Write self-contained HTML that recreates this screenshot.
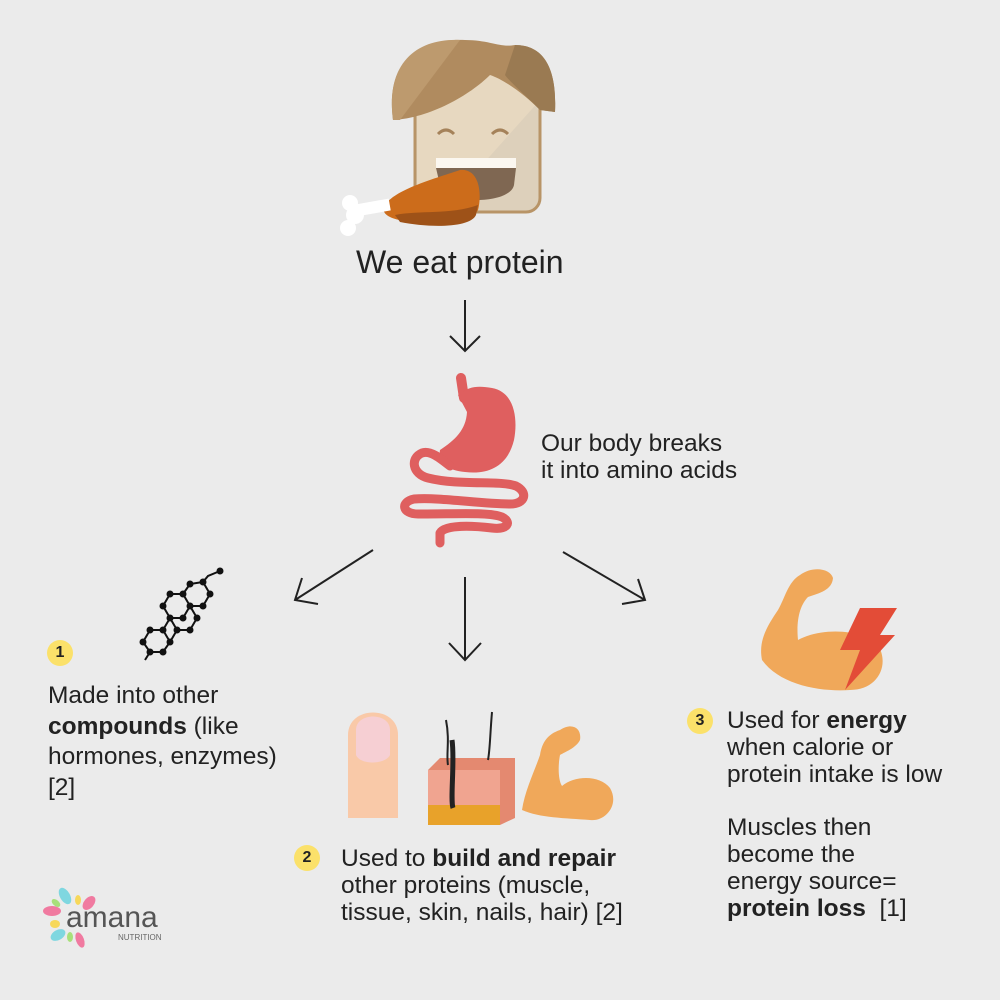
<!DOCTYPE html>
<html><head><style>
body{margin:0;background:#ebebeb;}
#c{position:relative;width:1000px;height:1000px;background:#ebebeb;font-family:"Liberation Sans",sans-serif;color:#222;overflow:hidden}
.t{position:absolute;font-size:24.5px;line-height:27px;white-space:nowrap}
.n{position:absolute;width:26px;height:26px;border-radius:50%;background:#fbe16a;font-size:16px;font-weight:bold;text-align:center;line-height:26px;color:#222}
svg{position:absolute;left:0;top:0}
</style></head><body><div id="c">
<svg width="1000" height="1000">
<!-- head -->
<rect x="415" y="62" width="125" height="150" rx="14" fill="#ddd0bb" stroke="#b89467" stroke-width="3"/>
<polygon points="417,64 540,64 540,100 440,212 417,212" fill="#e7d8c0"/>
<path d="M393,120 C385,60 420,38 465,40 C490,40 500,48 515,45 C545,45 557,70 555,112 L540,110 C525,95 505,80 490,75 C470,95 430,118 393,120Z" fill="#b08b5f"/>
<path d="M515,45 C545,45 557,70 555,112 L540,110 C525,95 510,82 505,75Z" fill="#9a7a52"/>
<path d="M393,120 C385,60 420,38 460,40 L400,120Z" fill="#bd9a6e"/>
<path d="M438,134 q8,-8 16,0 M492,134 q8,-8 16,0" stroke="#a5825a" stroke-width="3" fill="none"/>
<rect x="436" y="158" width="80" height="10" fill="#fbf7f0"/>
<path d="M436,168 L516,168 L514,185 C510,205 445,205 440,185Z" fill="#7f6752"/>
<!-- drumstick -->
<path d="M385,205 C395,190 430,180 460,170 C480,168 482,195 478,210 C470,225 430,225 400,220 C388,218 380,212 385,205Z" fill="#cc6c1b"/>
<path d="M395,215 C420,210 450,215 478,205 L476,215 C470,228 430,228 400,222Z" fill="#9e5218"/>
<rect x="350" y="202" width="40" height="12" fill="#fff" transform="rotate(-10 370 208)"/>
<circle cx="350" cy="203" r="8" fill="#fff"/><circle cx="348" cy="228" r="8" fill="#fff"/><circle cx="355" cy="215" r="9" fill="#fff"/>
<!-- arrows -->
<g stroke="#222" stroke-width="2" fill="none">
<path d="M465,300 V350 M450,336 L465,351 L480,336"/>
<path d="M373,550 L295,600 M302,578 L295,600 L318,604"/>
<path d="M465,577 V660 M449,643 L465,660 L481,643"/>
<path d="M563,552 L645,600 M622,604 L645,600 L638,579"/>
</g>
<!-- stomach -->
<path d="M461,378 L464,398" stroke="#df5f5f" stroke-width="10" fill="none" stroke-linecap="round"/>
<path d="M458,395 C470,385 480,386 492,388 C515,392 518,420 514,440 C508,465 490,475 465,472 C445,470 438,462 440,450 C455,440 466,430 467,412 Z" fill="#df5f5f"/>
<path d="M450,466 C440,458 430,450 422,453 C410,458 412,474 428,478 C460,486 500,480 516,486 C528,492 526,504 510,504 C480,504 440,497 414,499 C400,502 402,514 418,514 C460,514 490,512 502,517 C512,522 508,530 492,528 C475,526 445,524 440,533 L440,543" stroke="#df5f5f" stroke-width="9" fill="none" stroke-linecap="round" stroke-linejoin="round"/>
<!-- molecule -->
<g stroke="#111" stroke-width="2" fill="none">
<path d="M145,660 L150,652 L143,642 L150,630 L163,630 L170,642 L163,652 L150,652 M163,630 L170,618 L163,606 L170,594 L183,594 L190,606 L183,618 L170,618 M190,606 L197,618 L190,630 L177,630 L170,618 M177,630 L170,642 M183,594 L190,584 L203,582 L210,594 L203,606 L190,606 M203,582 L208,576 L220,571"/>
</g>
<g fill="#111">
<circle cx="150" cy="652" r="3.5"/><circle cx="143" cy="642" r="3.5"/><circle cx="150" cy="630" r="3.5"/><circle cx="163" cy="630" r="3.5"/><circle cx="170" cy="642" r="3.5"/><circle cx="163" cy="652" r="3.5"/>
<circle cx="170" cy="618" r="3.5"/><circle cx="163" cy="606" r="3.5"/><circle cx="170" cy="594" r="3.5"/><circle cx="183" cy="594" r="3.5"/><circle cx="190" cy="606" r="3.5"/><circle cx="183" cy="618" r="3.5"/>
<circle cx="197" cy="618" r="3.5"/><circle cx="190" cy="630" r="3.5"/><circle cx="177" cy="630" r="3.5"/>
<circle cx="203" cy="582" r="3.5"/><circle cx="210" cy="594" r="3.5"/><circle cx="203" cy="606" r="3.5"/><circle cx="190" cy="584" r="3.5"/><circle cx="220" cy="571" r="3.5"/>
</g>
<!-- finger -->
<path d="M348,818 L348,735 C348,705 398,705 398,735 L398,818Z" fill="#f9c9a8"/>
<path d="M356,755 L356,730 C356,712 390,712 390,730 L390,755 C385,765 360,765 356,755Z" fill="#f6cfd3"/>
<!-- skin -->
<path d="M428,770 L440,758 L515,758 L515,818 L500,825 L428,825Z" fill="#e48970"/>
<rect x="428" y="770" width="72" height="55" fill="#f0a490"/>
<rect x="428" y="805" width="72" height="20" fill="#e8a22a"/>
<path d="M452,740 C455,760 450,800 453,808" stroke="#222" stroke-width="5" fill="none"/>
<path d="M446,720 C450,740 446,755 448,765 M492,712 C490,735 490,750 488,760" stroke="#222" stroke-width="2" fill="none"/>
<!-- arm 2 -->
<path d="M522,810 C525,790 535,770 540,755 C542,742 548,734 560,730 C572,722 582,728 580,740 C576,748 565,752 560,755 C558,765 558,780 562,786 C575,775 600,775 610,788 C620,805 605,822 590,820 C565,818 540,818 522,810Z" fill="#f0a85a"/>
<!-- arm 3 -->
<path d="M762,660 C758,640 768,625 778,610 C785,598 788,582 800,575 C812,566 830,568 833,578 C832,590 820,593 808,597 C800,605 796,620 798,640 C820,628 860,628 878,645 C890,665 878,690 850,690 C820,692 780,685 762,660Z" fill="#f0a85a"/>
<polygon points="860,608 897,608 880,635 895,635 845,690 860,650 840,650" fill="#e34c37"/>
<!-- logo -->
<g>
<ellipse cx="65" cy="896" rx="5" ry="9" fill="#7fd7e0" transform="rotate(-30 65 896)"/>
<ellipse cx="78" cy="900" rx="3" ry="5" fill="#f7d85a"/>
<ellipse cx="89" cy="903" rx="5" ry="8" fill="#f07aa0" transform="rotate(40 89 903)"/>
<ellipse cx="52" cy="911" rx="9" ry="5" fill="#f07aa0"/>
<ellipse cx="56" cy="903" rx="3" ry="5" fill="#a8e07a" transform="rotate(-50 56 903)"/>
<ellipse cx="55" cy="924" rx="5" ry="4" fill="#f7d85a"/>
<ellipse cx="58" cy="935" rx="8" ry="5" fill="#7fd7e0" transform="rotate(-30 58 935)"/>
<ellipse cx="70" cy="937" rx="3" ry="5" fill="#a8e07a"/>
<ellipse cx="80" cy="940" rx="4" ry="8" fill="#f07aa0" transform="rotate(-20 80 940)"/>
<text x="66" y="927" font-family="Liberation Sans,sans-serif" font-size="30" fill="#555">amana</text>
<text x="118" y="940" font-family="Liberation Sans,sans-serif" font-size="8" fill="#666">NUTRITION</text>
</g>
</svg>
<div class="t" style="left:356px;top:243px;font-size:32px;line-height:38px">We eat protein</div>
<div class="t" style="left:541px;top:430px">Our body breaks<br>it into amino acids</div>
<div class="n" style="left:47px;top:640px">1</div>
<div class="t" style="left:48px;top:681px;line-height:30.5px">Made into other<br><b>compounds</b> (like<br>hormones, enzymes)<br>[2]</div>
<div class="n" style="left:294px;top:845px">2</div>
<div class="t" style="left:341px;top:845px">Used to <b>build and repair</b><br>other proteins (muscle,<br>tissue, skin, nails, hair) [2]</div>
<div class="n" style="left:687px;top:708px">3</div>
<div class="t" style="left:727px;top:707px">Used for <b>energy</b><br>when calorie or<br>protein intake is low</div>
<div class="t" style="left:727px;top:814px">Muscles then<br>become the<br>energy source=<br><b>protein loss</b>&nbsp; [1]</div>
</div></body></html>
